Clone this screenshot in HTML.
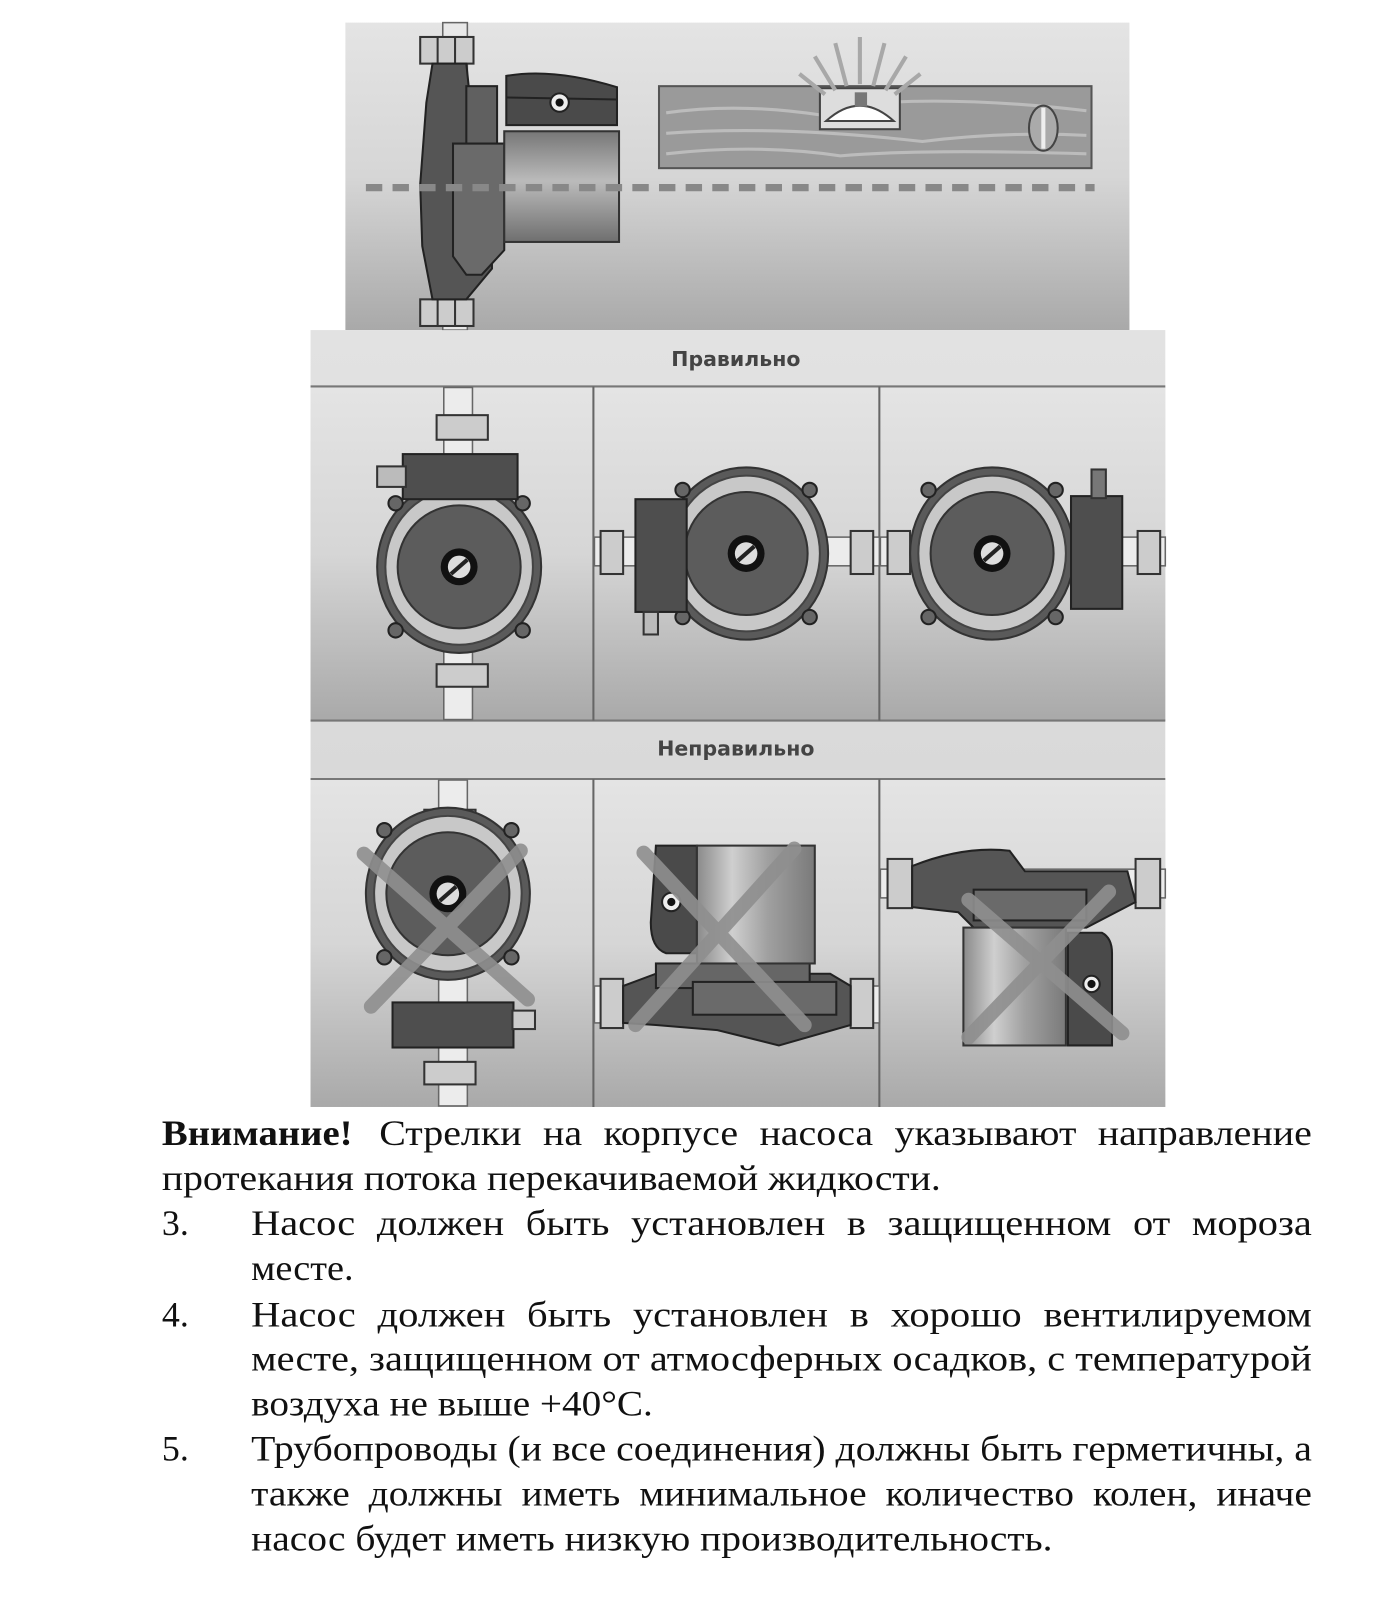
<!DOCTYPE html>
<html><head><meta charset="utf-8"><style>
html,body{margin:0;padding:0;background:#fff;width:1400px;height:1600px;overflow:hidden}
svg{display:block}
</style></head><body>
<svg width="1400" height="1600" viewBox="0 0 1366 1561" xmlns="http://www.w3.org/2000/svg">
<defs>
<linearGradient id="bg" x1="0" y1="0" x2="0" y2="1"><stop offset="0" stop-color="#e4e4e4"/><stop offset="0.5" stop-color="#d6d6d6"/><stop offset="1" stop-color="#a9a9a9"/></linearGradient>
<linearGradient id="hd" x1="0" y1="0" x2="0" y2="1"><stop offset="0" stop-color="#e2e2e2"/><stop offset="1" stop-color="#d2d2d2"/></linearGradient>
<linearGradient id="cyl" x1="0" y1="0" x2="1" y2="0"><stop offset="0" stop-color="#8a8a8a"/><stop offset="0.3" stop-color="#cfcfcf"/><stop offset="0.6" stop-color="#a0a0a0"/><stop offset="1" stop-color="#7a7a7a"/></linearGradient>
<linearGradient id="cylv" x1="0" y1="0" x2="0" y2="1"><stop offset="0" stop-color="#777"/><stop offset="0.45" stop-color="#bbb"/><stop offset="1" stop-color="#6f6f6f"/></linearGradient>
<g id="face">
<ellipse cx="0" cy="0" rx="80" ry="84" fill="#5a5a5a" stroke="#333" stroke-width="2"/>
<ellipse cx="0" cy="0" rx="72" ry="76" fill="#c8c8c8" stroke="#444" stroke-width="2"/>
<circle cx="0" cy="0" r="60" fill="#5c5c5c" stroke="#333" stroke-width="2"/>
<circle cx="0" cy="0" r="18" fill="#111"/>
<circle cx="0" cy="0" r="11" fill="#ddd"/>
<line x1="-8" y1="7" x2="8" y2="-7" stroke="#222" stroke-width="4"/>
<circle cx="-62" cy="-62" r="7" fill="#666" stroke="#222" stroke-width="2"/>
<circle cx="62" cy="-62" r="7" fill="#666" stroke="#222" stroke-width="2"/>
<circle cx="-62" cy="62" r="7" fill="#666" stroke="#222" stroke-width="2"/>
<circle cx="62" cy="62" r="7" fill="#666" stroke="#222" stroke-width="2"/>
</g>
</defs>

<rect x="337" y="22" width="765" height="300" fill="url(#bg)"/>
<rect x="432" y="22" width="24" height="300" fill="#e8e8e8" stroke="#666" stroke-width="1.5"/>
<rect x="410" y="36" width="52" height="26" fill="#ccc" stroke="#333" stroke-width="2"/>
<line x1="427" y1="36" x2="427" y2="62" stroke="#333" stroke-width="2"/><line x1="444" y1="36" x2="444" y2="62" stroke="#333" stroke-width="2"/>
<rect x="410" y="292" width="52" height="26" fill="#ccc" stroke="#333" stroke-width="2"/>
<line x1="427" y1="292" x2="427" y2="318" stroke="#333" stroke-width="2"/><line x1="444" y1="292" x2="444" y2="318" stroke="#333" stroke-width="2"/>
<path d="M422 62 L455 62 L460 110 L480 110 L480 262 L465 280 L455 292 L422 292 L412 240 L410 180 L416 100 Z" fill="#555" stroke="#222" stroke-width="2"/>
<rect x="455" y="84" width="30" height="150" fill="#606060" stroke="#222" stroke-width="2"/>
<path d="M442 140 L492 140 L492 244 L470 268 L455 268 L442 250 Z" fill="#6a6a6a" stroke="#222" stroke-width="2"/>
<path d="M494 74 Q540 66 602 85 L602 122 L494 122 Z" fill="#4a4a4a" stroke="#222" stroke-width="2"/>
<line x1="494" y1="95" x2="602" y2="97" stroke="#222" stroke-width="2"/>
<circle cx="546" cy="100" r="9" fill="#eee" stroke="#222" stroke-width="2"/><circle cx="546" cy="100" r="4" fill="#111"/>
<rect x="492" y="128" width="112" height="108" fill="url(#cylv)" stroke="#333" stroke-width="2"/>
<rect x="643" y="84" width="422" height="80" fill="#9a9a9a" stroke="#555" stroke-width="2"/>
<path d="M650 110 Q720 100 800 112 M650 130 Q760 122 900 138 Q980 128 1060 132 M650 150 Q740 140 820 152 Q900 145 1060 150 M860 100 Q950 95 1060 108" fill="none" stroke="#bcbcbc" stroke-width="3"/>
<rect x="800" y="86" width="78" height="40" fill="#ddd" stroke="#444" stroke-width="2"/>
<path d="M806 118 Q839 88 872 118 Z" fill="#fff" stroke="#444" stroke-width="2"/>
<rect x="834" y="90" width="12" height="14" fill="#777"/>
<ellipse cx="1018" cy="125" rx="14" ry="22" fill="#aaa" stroke="#444" stroke-width="2"/>
<line x1="1018" y1="105" x2="1018" y2="145" stroke="#eee" stroke-width="4"/>
<g stroke="#a8a8a8" stroke-width="4"><line x1="839" y1="82" x2="839" y2="36"/><line x1="826" y1="84" x2="815" y2="42"/><line x1="852" y1="84" x2="863" y2="42"/><line x1="815" y1="88" x2="795" y2="55"/><line x1="864" y1="88" x2="884" y2="55"/><line x1="805" y1="92" x2="780" y2="72"/><line x1="873" y1="92" x2="898" y2="72"/></g>
<line x1="357" y1="183" x2="1068" y2="183" stroke="#888" stroke-width="7" stroke-dasharray="16,10"/>

<rect x="303" y="322" width="834" height="758" fill="url(#hd)"/>
<rect x="303" y="377" width="834" height="326" fill="url(#bg)"/>
<rect x="303" y="760" width="834" height="320" fill="url(#bg)"/>
<line x1="303" y1="377" x2="1137" y2="377" stroke="#777" stroke-width="2"/>
<line x1="303" y1="703" x2="1137" y2="703" stroke="#777" stroke-width="2"/>
<line x1="303" y1="760" x2="1137" y2="760" stroke="#777" stroke-width="2"/>
<line x1="579" y1="377" x2="579" y2="703" stroke="#666" stroke-width="2"/>
<line x1="858" y1="377" x2="858" y2="703" stroke="#666" stroke-width="2"/>
<line x1="579" y1="760" x2="579" y2="1080" stroke="#666" stroke-width="2"/>
<line x1="858" y1="760" x2="858" y2="1080" stroke="#666" stroke-width="2"/>
<text x="718" y="357" font-family="DejaVu Sans, sans-serif" font-weight="bold" font-size="20" fill="#444" text-anchor="middle">Правильно</text>
<text x="718" y="737" font-family="DejaVu Sans, sans-serif" font-weight="bold" font-size="20" fill="#444" text-anchor="middle">Неправильно</text>

<rect x="433" y="378" width="28" height="324" fill="#ececec" stroke="#666" stroke-width="1.5"/>
<rect x="426" y="405" width="50" height="24" fill="#ccc" stroke="#333" stroke-width="2"/>
<rect x="426" y="648" width="50" height="22" fill="#ccc" stroke="#333" stroke-width="2"/>
<use href="#face" x="448" y="553"/>
<rect x="393" y="443" width="112" height="44" fill="#4e4e4e" stroke="#222" stroke-width="2"/>
<rect x="368" y="455" width="28" height="20" fill="#bbb" stroke="#333" stroke-width="2"/>
<rect x="580" y="524" width="278" height="28" fill="#ececec" stroke="#666" stroke-width="1.5"/>
<rect x="586" y="518" width="22" height="42" fill="#ccc" stroke="#333" stroke-width="2"/>
<rect x="830" y="518" width="22" height="42" fill="#ccc" stroke="#333" stroke-width="2"/>
<use href="#face" x="728" y="540"/>
<rect x="620" y="487" width="50" height="110" fill="#4e4e4e" stroke="#222" stroke-width="2"/>
<rect x="628" y="597" width="14" height="22" fill="#bbb" stroke="#333" stroke-width="2"/>
<rect x="859" y="524" width="278" height="28" fill="#ececec" stroke="#666" stroke-width="1.5"/>
<rect x="866" y="518" width="22" height="42" fill="#ccc" stroke="#333" stroke-width="2"/>
<rect x="1110" y="518" width="22" height="42" fill="#ccc" stroke="#333" stroke-width="2"/>
<use href="#face" x="968" y="540"/>
<rect x="1045" y="484" width="50" height="110" fill="#4e4e4e" stroke="#222" stroke-width="2"/>
<rect x="1065" y="458" width="14" height="28" fill="#777" stroke="#333" stroke-width="2"/>

<rect x="428" y="761" width="28" height="318" fill="#ececec" stroke="#666" stroke-width="1.5"/>
<rect x="414" y="790" width="50" height="24" fill="#ccc" stroke="#333" stroke-width="2"/>
<rect x="414" y="1036" width="50" height="22" fill="#ccc" stroke="#333" stroke-width="2"/>
<use href="#face" x="437" y="872"/>
<rect x="383" y="978" width="118" height="44" fill="#4e4e4e" stroke="#222" stroke-width="2"/>
<rect x="500" y="986" width="22" height="18" fill="#ccc" stroke="#333" stroke-width="2"/>
<g stroke="#8f8f8f" stroke-width="14" stroke-linecap="round" opacity="0.9"><line x1="355" y1="833" x2="515" y2="975"/><line x1="508" y1="830" x2="362" y2="982"/></g>
<rect x="580" y="962" width="278" height="36" fill="#ececec" stroke="#666" stroke-width="1.5"/>
<rect x="586" y="955" width="22" height="48" fill="#ccc" stroke="#333" stroke-width="2"/>
<rect x="830" y="955" width="22" height="48" fill="#ccc" stroke="#333" stroke-width="2"/>
<path d="M608 962 L640 950 L810 950 L830 962 L830 1000 L760 1020 L700 1005 L640 1000 L608 998 Z" fill="#555" stroke="#222" stroke-width="2"/>
<rect x="640" y="940" width="150" height="24" fill="#666" stroke="#222" stroke-width="2"/>
<rect x="676" y="958" width="140" height="32" fill="#6a6a6a" stroke="#222" stroke-width="2"/>
<path d="M640 825 L680 825 L680 930 L650 930 Q635 925 635 900 Z" fill="#4a4a4a" stroke="#222" stroke-width="2"/>
<circle cx="655" cy="880" r="9" fill="#eee" stroke="#222" stroke-width="2"/><circle cx="655" cy="880" r="4" fill="#111"/>
<rect x="680" y="825" width="115" height="115" fill="url(#cyl)" stroke="#333" stroke-width="2"/>
<g stroke="#8f8f8f" stroke-width="14" stroke-linecap="round" opacity="0.9"><line x1="628" y1="832" x2="785" y2="1000"/><line x1="775" y1="828" x2="620" y2="1000"/></g>
<rect x="859" y="848" width="278" height="28" fill="#ececec" stroke="#666" stroke-width="1.5"/>
<rect x="866" y="838" width="24" height="48" fill="#ccc" stroke="#333" stroke-width="2"/>
<rect x="1108" y="838" width="24" height="48" fill="#ccc" stroke="#333" stroke-width="2"/>
<path d="M890 845 Q940 825 985 830 L1000 850 L1100 850 L1108 880 L1060 905 L950 905 L935 890 L890 885 Z" fill="#555" stroke="#222" stroke-width="2"/>
<rect x="950" y="868" width="110" height="30" fill="#6a6a6a" stroke="#222" stroke-width="2"/>
<rect x="940" y="905" width="100" height="115" fill="url(#cyl)" stroke="#333" stroke-width="2"/>
<path d="M1042 910 L1075 910 Q1085 915 1085 930 L1085 1020 L1042 1020 Z" fill="#4a4a4a" stroke="#222" stroke-width="2"/>
<circle cx="1065" cy="960" r="8" fill="#eee" stroke="#222" stroke-width="2"/><circle cx="1065" cy="960" r="4" fill="#111"/>
<g stroke="#8f8f8f" stroke-width="14" stroke-linecap="round" opacity="0.9"><line x1="945" y1="878" x2="1095" y2="1008"/><line x1="1082" y1="870" x2="945" y2="1012"/></g>

<g font-family="Liberation Serif, serif" font-size="35" fill="#111">
<text x="158" y="1117" font-weight="bold" textLength="186" lengthAdjust="spacingAndGlyphs">Внимание!</text>
<text x="370" y="1117" textLength="910" lengthAdjust="spacingAndGlyphs" word-spacing="10">Стрелки на корпусе насоса указывают направление</text>
<text x="158" y="1161" textLength="760" lengthAdjust="spacingAndGlyphs">протекания потока перекачиваемой жидкости.</text>
<text x="158" y="1205">3.</text>
<text x="245" y="1205" textLength="1035" lengthAdjust="spacingAndGlyphs" word-spacing="10">Насос должен быть установлен в защищенном от мороза</text>
<text x="245" y="1249" textLength="100" lengthAdjust="spacingAndGlyphs">месте.</text>
<text x="158" y="1294">4.</text>
<text x="245" y="1294" textLength="1035" lengthAdjust="spacingAndGlyphs" word-spacing="10">Насос должен быть установлен в хорошо вентилируемом</text>
<text x="245" y="1337" textLength="1035" lengthAdjust="spacingAndGlyphs">месте, защищенном от атмосферных осадков, с температурой</text>
<text x="245" y="1381" textLength="392" lengthAdjust="spacingAndGlyphs">воздуха не выше +40°C.</text>
<text x="158" y="1425">5.</text>
<text x="245" y="1425" textLength="1035" lengthAdjust="spacingAndGlyphs">Трубопроводы (и все соединения) должны быть герметичны, а</text>
<text x="245" y="1469" textLength="1035" lengthAdjust="spacingAndGlyphs" word-spacing="8">также должны иметь минимальное количество колен, иначе</text>
<text x="245" y="1513" textLength="782" lengthAdjust="spacingAndGlyphs">насос будет иметь низкую производительность.</text>
</g>
</svg>
</body></html>
